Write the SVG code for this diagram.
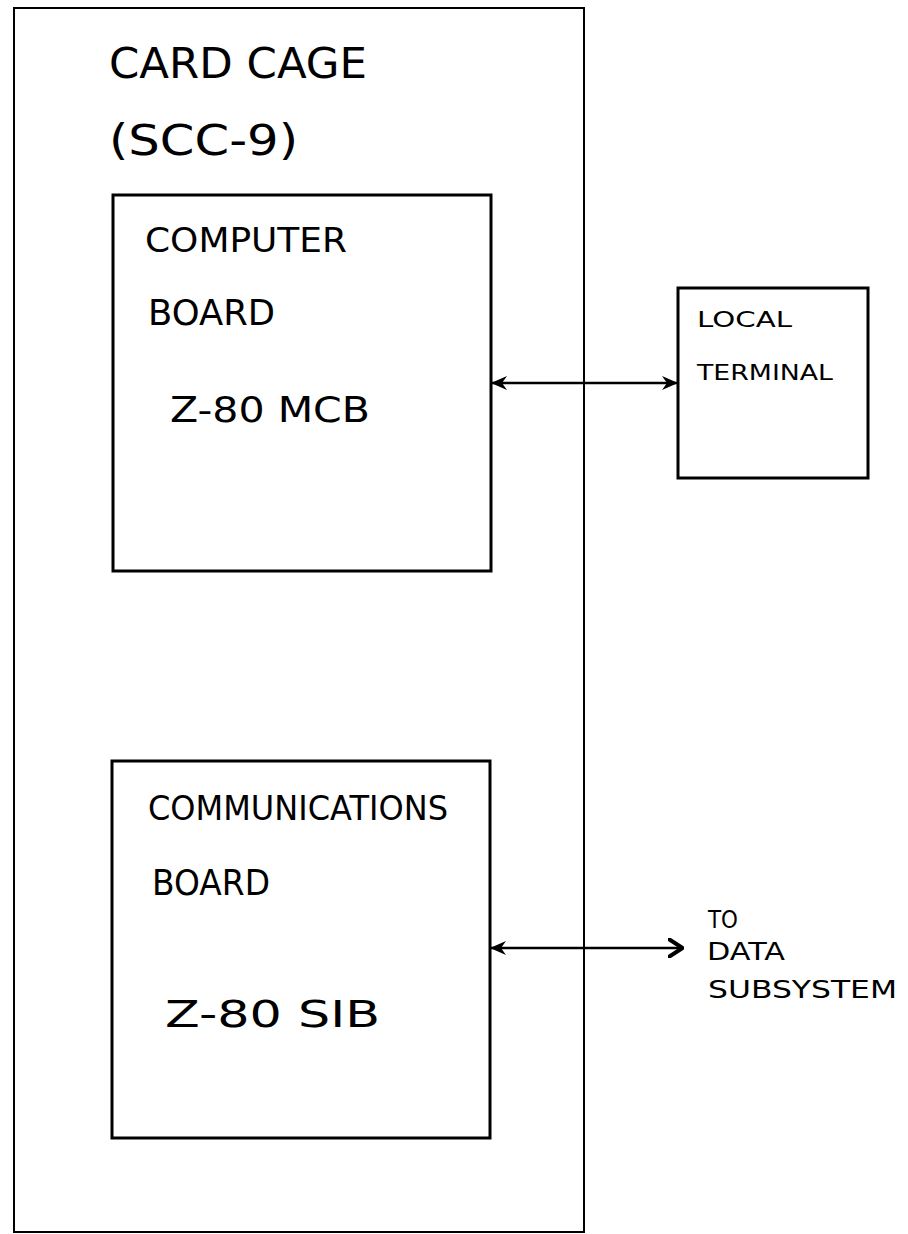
<svg xmlns="http://www.w3.org/2000/svg" width="908" height="1234" viewBox="0 0 908 1234">
<style>
.box{fill:none;stroke:#000;stroke-width:3;stroke-linejoin:miter}
.outer{fill:none;stroke:#000;stroke-width:2}
.t{font-family:"DejaVu Sans","Liberation Sans",sans-serif;fill:#000;font-weight:normal}
.conn{stroke:#000;stroke-width:2.5;fill:none}
</style>
<defs>
<marker id="barb" viewBox="0 0 16 14" refX="15" refY="7" markerWidth="16" markerHeight="14" markerUnits="userSpaceOnUse" orient="auto-start-reverse">
<path d="M0,0 L16,7 L0,14 L5,7 Z" fill="#000"/>
</marker>
<marker id="chev" viewBox="0 0 16 20" refX="15" refY="10" markerWidth="16" markerHeight="20" markerUnits="userSpaceOnUse" orient="auto">
<path d="M1.5,1.5 L14.5,10 L1.5,18.5" fill="none" stroke="#000" stroke-width="4" stroke-linecap="round" stroke-linejoin="round"/>
</marker>
</defs>
<rect width="908" height="1234" fill="#fff"/>
<g id="card-cage">
<rect class="outer" x="14" y="8" width="570" height="1224"/>
<text class="t" x="109" y="78" font-size="43" textLength="258" lengthAdjust="spacingAndGlyphs">CARD CAGE</text>
<text class="t" x="109" y="155" font-size="42" textLength="189" lengthAdjust="spacingAndGlyphs">(SCC-9)</text>
</g>
<g id="computer-board">
<rect class="box" x="113" y="195" width="378" height="376"/>
<text class="t" x="145" y="252" font-size="33" textLength="202" lengthAdjust="spacingAndGlyphs">COMPUTER</text>
<text class="t" x="148" y="325" font-size="36" textLength="127" lengthAdjust="spacingAndGlyphs">BOARD</text>
<text class="t" x="170" y="422" font-size="36" textLength="200" lengthAdjust="spacingAndGlyphs">Z-80 MCB</text>
</g>
<g id="local-terminal">
<rect class="box" x="678" y="288" width="190" height="190"/>
<text class="t" x="697" y="327" font-size="21" textLength="95" lengthAdjust="spacingAndGlyphs">LOCAL</text>
<text class="t" x="697" y="380" font-size="22" textLength="136" lengthAdjust="spacingAndGlyphs">TERMINAL</text>
</g>
<g id="communications-board">
<rect class="box" x="112" y="761" width="378" height="377"/>
<text class="t" x="148" y="820" font-size="33" textLength="300" lengthAdjust="spacingAndGlyphs">COMMUNICATIONS</text>
<text class="t" x="152" y="895" font-size="35" textLength="118" lengthAdjust="spacingAndGlyphs">BOARD</text>
<text class="t" x="165" y="1027" font-size="37" textLength="215" lengthAdjust="spacingAndGlyphs">Z-80 SIB</text>
</g>
<g id="data-subsystem-label">
<text class="t" x="708" y="928" font-size="24" textLength="30" lengthAdjust="spacingAndGlyphs">TO</text>
<text class="t" x="707" y="960" font-size="24" textLength="78" lengthAdjust="spacingAndGlyphs">DATA</text>
<text class="t" x="708" y="998" font-size="24" textLength="189" lengthAdjust="spacingAndGlyphs">SUBSYSTEM</text>
</g>
<g id="connectors">
<line class="conn" x1="492" y1="383" x2="677" y2="383" marker-start="url(#barb)" marker-end="url(#barb)"/>
<line class="conn" x1="491" y1="948" x2="683" y2="948" marker-start="url(#barb)" marker-end="url(#chev)"/>
</g>
</svg>
